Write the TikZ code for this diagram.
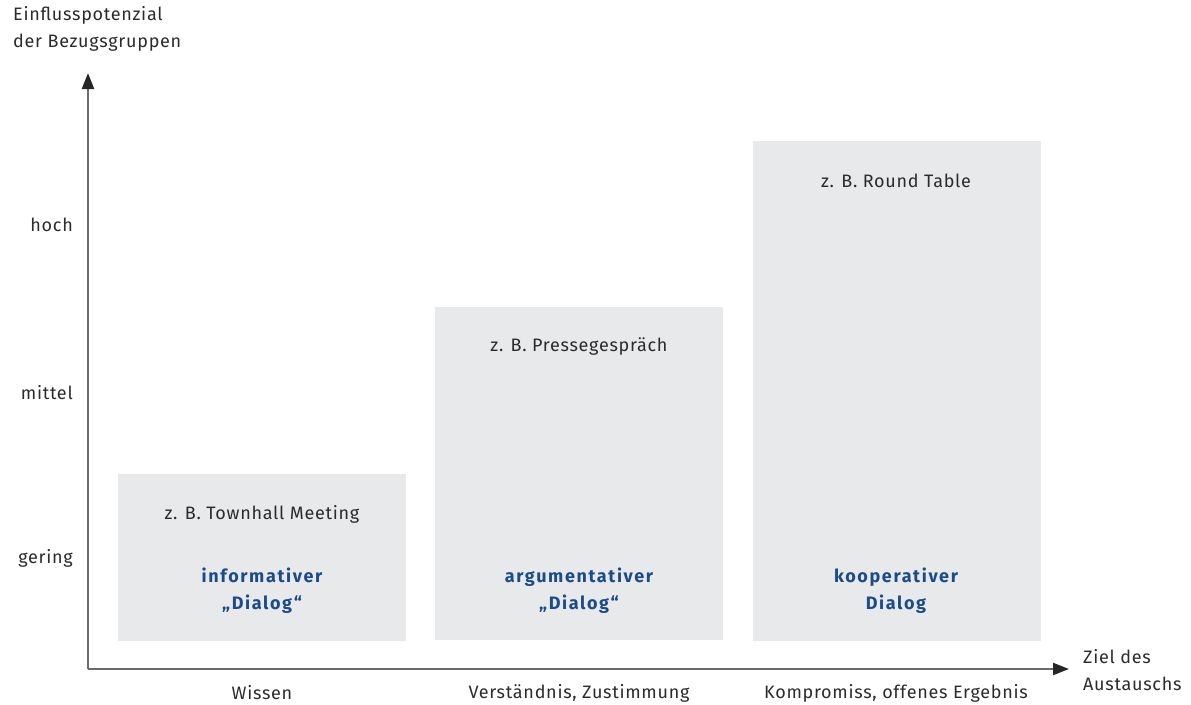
\documentclass[tikz,border=0pt]{standalone}
\usepackage{fontspec}
\setmainfont{Fira Sans}[LetterSpace=4]
\newfontfamily\kindfont{Fira Sans}[LetterSpace=9]
\usetikzlibrary{arrows.meta}
\definecolor{boxgrey}{HTML}{E8E9EB}
\definecolor{axisgrey}{HTML}{6B6B6B}
\definecolor{txt}{HTML}{2B2B2B}
\definecolor{dblue}{HTML}{1B4B8A}
\tikzset{
  box/.style={fill=boxgrey, draw=none, anchor=north west, inner sep=0pt, outer sep=0pt},
  lbl/.style={text=txt, font=\fontsize{18}{27}\selectfont, inner sep=0pt, align=center},
  kind/.style={text=dblue, font=\kindfont\fontsize{18}{27}\selectfont\bfseries, inner sep=0pt, align=center},
  axis/.style={draw=axisgrey, line width=2.2pt, -{Triangle[length=16pt,width=12pt,color=black!85]}}
}
\begin{document}
\begin{tikzpicture}[x=1pt,y=-1pt]
\useasboundingbox (0,0) rectangle (1191,704);
% boxes
\node[box, minimum width=288pt, minimum height=167pt] (b1) at (118,474) {};
\node[box, minimum width=288pt, minimum height=333pt] (b2) at (435,307) {};
\node[box, minimum width=288pt, minimum height=500pt] (b3) at (753,141) {};
% axes
\coordinate (o) at (88,669);
\coordinate (ytip) at (88,73);
\coordinate (xtip) at (1069,669);
\draw[axis] (o) -- (ytip);
\draw[axis] (o) -- (xtip);
% axis titles
\node[lbl, anchor=north west, align=left] (ytitle) at (13,6) {Einflusspotenzial\\der Bezugsgruppen};
\node[lbl, anchor=west, align=left] (xtitle) at (1083,670) {Ziel des\\Austauschs};
% y labels
\node[lbl, anchor=east] (hoch) at (73,225) {hoch};
\node[lbl, anchor=east] (mittel) at (73,393) {mittel};
\node[lbl, anchor=east] (gering) at (73,558) {gering};
% x labels
\node[lbl] (wissen) at (262,693) {Wissen};
\node[lbl] (verst) at (579,693) {Verständnis, Zustimmung};
\node[lbl] (kompr) at (896,693) {Kompromiss, offenes Ergebnis};
% box texts
\node[lbl] (e1) at (262,514) {z. B. Townhall Meeting};
\node[lbl] (e2) at (579,347) {z. B. Pressegespräch};
\node[lbl] (e3) at (896,181) {z. B. Round Table};
\node[kind] (k1) at (262,591) {informativer\\„Dialog“};
\node[kind] (k2) at (579,591) {argumentativer\\„Dialog“};
\node[kind] (k3) at (896,591) {kooperativer\\Dialog};
\end{tikzpicture}
\end{document}
